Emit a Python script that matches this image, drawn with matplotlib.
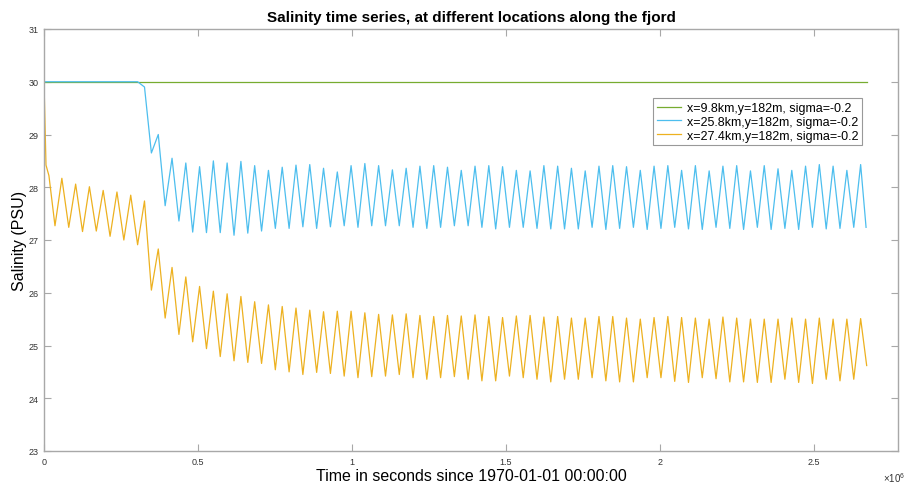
import numpy as np
from matplotlib import pyplot as plt
from matplotlib.ticker import FuncFormatter

# ===== Dados =====

rotulos = ['x=9.8km,y=182m, sigma=-0.2',
           'x=25.8km,y=182m, sigma=-0.2',
           'x=27.4km,y=182m, sigma=-0.2']
cores = ['#77AC30', '#4DBEEE', '#EDB120']

# instante do primeiro pico e meio periodo da mare (s)
t0 = 58000
meio_periodo = 22357
t_fim = 2.671e6

# serie verde: constante
t_verde = [0, t_fim]
s_verde = [30.0, 30.0]

# serie laranja: inicio, depois cavados e picos alternados
t_laranja_ini = [0, 6500, 16000]
s_laranja_ini = [30.0, 28.42, 28.22]
picos_laranja = [28.17, 28.06, 28.01, 27.94, 27.91, 27.85, 27.74,
                 26.83, 26.48,
                 26.30, 26.12, 26.03, 25.98, 25.93, 25.83, 25.77, 25.74, 25.71, 25.67, 25.64, 25.65, 25.65, 25.62, 25.59,
                 25.58, 25.60, 25.57, 25.55, 25.57, 25.56, 25.58, 25.55, 25.53, 25.56, 25.57, 25.54, 25.55,
                 25.52, 25.52, 25.55, 25.55, 25.52, 25.50, 25.53, 25.55, 25.53, 25.52, 25.50, 25.54, 25.52, 25.50,
                 25.50, 25.50, 25.52, 25.50, 25.52, 25.50, 25.50, 25.51]
cavados_laranja = [27.27, 27.24, 27.16, 27.17, 27.07, 27.00, 26.91,
                   26.05, 25.52, 25.21,
                   25.07, 24.94, 24.79, 24.71, 24.68, 24.66, 24.54, 24.50, 24.45, 24.49, 24.47, 24.42, 24.39, 24.41,
                   24.42, 24.45, 24.39, 24.36, 24.39, 24.41, 24.36, 24.33, 24.33, 24.42, 24.39, 24.36, 24.31, 24.36,
                   24.36, 24.39, 24.33, 24.31, 24.31, 24.39, 24.39, 24.32, 24.30, 24.39, 24.37, 24.31, 24.31,
                   24.30, 24.30, 24.36, 24.30, 24.28, 24.36, 24.33, 24.36]
s_laranja_fim = 24.62

# serie azul: 30 ate ~0.31e6 s, depois oscila
s_azul_ini = [30.0, 30.0, 29.9]
picos_azul = [29.00, 28.55,
              28.46, 28.39, 28.50, 28.46, 28.49, 28.41, 28.32, 28.38, 28.42, 28.43, 28.36, 28.29, 28.41, 28.45, 28.41,
              28.33, 28.36, 28.40, 28.41, 28.38, 28.32, 28.40, 28.41, 28.39, 28.32, 28.31, 28.41, 28.40, 28.36,
              28.31, 28.40, 28.41, 28.39, 28.32, 28.40, 28.41, 28.32, 28.41, 28.31, 28.40, 28.41, 28.31,
              28.41, 28.35, 28.32, 28.40, 28.43, 28.40, 28.32, 28.43]
cavados_azul = [28.65, 27.65, 27.36,
                27.15, 27.14, 27.14, 27.09, 27.13, 27.17, 27.22, 27.22, 27.25, 27.22, 27.25, 27.27, 27.24, 27.27,
                27.27, 27.27, 27.24, 27.22, 27.24, 27.27, 27.27, 27.24, 27.21, 27.24, 27.24, 27.22, 27.21, 27.21,
                27.21, 27.24, 27.20, 27.22, 27.24, 27.20, 27.22, 27.24, 27.21, 27.20, 27.24, 27.22, 27.20,
                27.24, 27.20, 27.22, 27.20, 27.24, 27.21, 27.22, 27.24]
s_azul_fim = 27.24

# ===== Montagem das series =====

def intercala(cavados, picos):
    s = []
    for c, p in zip(cavados, picos):
        s += [c, p]
    return s

s_lar = intercala(cavados_laranja, picos_laranja)
idx_lar = np.arange(-1, len(s_lar) - 1)
t_lar = np.concatenate([t_laranja_ini, t0 + idx_lar * meio_periodo, [t_fim]])
s_lar = np.concatenate([s_laranja_ini, s_lar, [s_laranja_fim]])

s_az = intercala(cavados_azul, picos_azul)
idx_az = np.arange(13, 13 + len(s_az))
t_az = np.concatenate([[0, t0 + 11 * meio_periodo, t0 + 12 * meio_periodo],
                       t0 + idx_az * meio_periodo, [t_fim - 2000]])
s_az = np.concatenate([s_azul_ini, s_az, [s_azul_fim]])

# ===== Plotagem =====

plt.rcParams['font.family'] = ['Liberation Sans', 'DejaVu Sans']
plt.rcParams['mathtext.fontset'] = 'custom'
plt.rcParams['mathtext.rm'] = 'Liberation Sans'

fig = plt.figure(figsize=(9.06, 4.85), dpi=100)
ax = fig.add_axes([44/906, 33/485, 854/906, 422/485])

ax.plot(t_verde, s_verde, color=cores[0], lw=0.9, label=rotulos[0])
ax.plot(t_az, s_az, color=cores[1], lw=0.9, label=rotulos[1])
ax.plot(t_lar, s_lar, color=cores[2], lw=0.9, label=rotulos[2])

ax.set_xlim(0, 2.7727e6)
ax.set_ylim(23, 31)
ax.set_xticks(np.arange(0, 2.6e6, 0.5e6))
ax.set_yticks(np.arange(23, 32, 1))
ax.xaxis.set_major_formatter(FuncFormatter(lambda v, p: '%g' % (v / 1e6)))

# multiplicador do eixo x, como no MATLAB
ax.text(0.983, -0.045, r'$\times\mathregular{10^6}$', transform=ax.transAxes,
        ha='left', va='top', fontsize=7, color='#333333')

ax.tick_params(direction='in', top=True, right=True, length=5, width=0.8,
               labelsize=6.5, colors='#a8a8a8', labelcolor='#333333', pad=4)
for sp in ax.spines.values():
    sp.set_color('#a8a8a8')
    sp.set_linewidth(1.0)

ax.set_title('Salinity time series, at different locations along the fjord',
             fontsize=11, fontweight='bold', pad=6)
ax.set_xlabel('Time in seconds since 1970-01-01 00:00:00', fontsize=11.5, labelpad=2)
ax.set_ylabel('Salinity (PSU)', fontsize=11.5, labelpad=1)

leg = ax.legend(loc='upper right', bbox_to_anchor=(0.958, 0.836), fontsize=9,
                frameon=True, fancybox=False, framealpha=1, edgecolor='#999999',
                borderaxespad=0, handlelength=1.9, handletextpad=0.5,
                labelspacing=0.15, borderpad=0.3)
leg.get_frame().set_linewidth(0.8)

plt.savefig('out.png', dpi=100)
